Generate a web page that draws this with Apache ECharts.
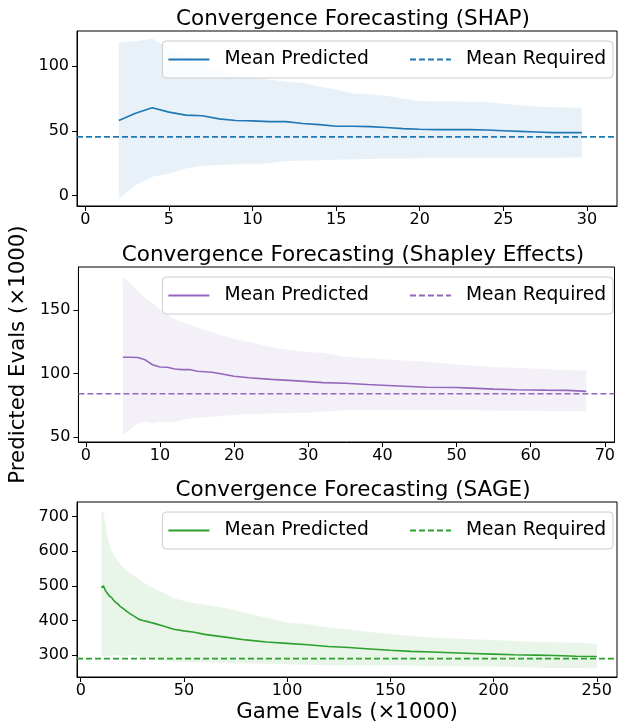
<!DOCTYPE html>
<html>
<head>
<meta charset="utf-8">
<script src="https://cdn.jsdelivr.net/npm/echarts@6/dist/echarts.min.js"></script>
<style>
  html, body { margin: 0; padding: 0; background: #fff; }
  #chart { width: 618px; height: 726px; }
</style>
</head>
<body>
<div id="chart"></div>
<script>
// SHAP
const shapX = [2, 3, 4, 5, 6, 7, 8, 9, 10, 11, 12, 13, 14, 15, 16, 17, 18, 19, 20, 21, 22, 23, 24, 25, 26, 27, 28, 29.7];
const shapMean = [57.9, 63.6, 67.8, 64.4, 62.1, 61.6, 59.2, 57.9, 57.7, 57.1, 57.1, 55.6, 54.8, 53.5, 53.5, 53.2, 52.5, 51.7, 51.2, 50.9, 50.9, 50.9, 50.6, 50.1, 49.6, 49.1, 48.6, 48.6];
const shapUpper = [118.4, 119, 121, 114, 108, 102, 97, 93, 91.2, 89.5, 87.8, 87, 83.9, 81.8, 78.7, 78.2, 77, 74.8, 73, 72.8, 72.7, 72.5, 72.2, 70.9, 69.8, 68.8, 68.2, 67.8];
const shapLower = [-2.6, 8, 14.5, 16.9, 21, 22.9, 23.6, 24.2, 24.2, 24.9, 26.8, 27, 27.3, 27.6, 28, 28.2, 28.6, 28.7, 28.8, 28.8, 28.8, 28.9, 29, 29, 29.1, 29.2, 29.3, 29.4];
const shapRequired = 45.3;

// Shapley Effects
const seX = [5, 6, 7, 8, 9, 10, 11, 12, 13, 14, 15, 17, 18, 20, 22, 25, 28, 30, 32, 35, 38, 40, 43, 46, 50, 52, 55, 58, 62, 65, 67.5];
const seMean = [112.8, 112.8, 112.6, 110.8, 106.9, 105.1, 104.9, 103.6, 103.1, 103.1, 101.8, 101, 100, 97.9, 96.7, 95.4, 94.4, 93.6, 92.8, 92.3, 91.3, 90.8, 90, 89.2, 89, 88.5, 87.7, 87.2, 86.9, 86.7, 85.9];
const seUpper = [176, 171, 164.6, 159.5, 155.6, 150.5, 146.5, 142.8, 140.3, 138.5, 136.4, 132.6, 130.5, 127.4, 124.9, 121, 117.9, 117, 116.4, 113.3, 112, 111.3, 110.3, 109.5, 106.9, 106.3, 105.1, 104.5, 103.6, 102.6, 102.3];
const seLower = [51.8, 55.6, 60.8, 62, 60.8, 62, 61.5, 62, 63.3, 64.6, 65.2, 65.9, 66.3, 67.2, 67.8, 68.5, 68.8, 69, 70, 71, 71, 71, 71, 71, 71, 71, 70.8, 70.6, 70.5, 70.4, 70.3];
const seRequired = 84;

// SAGE
const sageX = [10, 11, 12, 13, 14, 15, 16, 17, 18, 19, 20, 22, 24, 26, 28, 30, 33, 36, 40, 45, 50, 55, 60, 70, 80, 90, 100, 110, 120, 130, 140, 150, 160, 170, 180, 190, 200, 210, 220, 230, 240, 250];
const sageMean = [495, 500, 486, 478, 470, 466, 458, 452, 448, 441, 437, 428, 419, 412, 404, 400, 396, 391, 384, 375, 370, 366, 360, 352, 344, 338, 334, 330, 325, 322, 318, 314, 311, 309, 307, 305, 303, 301, 300, 299, 297, 296];
const sageUpper = [714, 712, 679, 641, 617, 600, 590, 580, 572, 565, 556, 545, 536, 528, 520, 512, 500, 490, 480, 465, 456, 450, 446, 436, 422, 408, 394, 389, 380, 374, 367, 361, 355, 351, 348, 346, 344, 341, 339, 337, 336, 333];
const sageLower = [298, 297, 296, 297, 298, 298, 299, 300, 300, 299, 298, 297, 300, 300, 297, 294, 289, 286, 284, 282, 281, 280, 279, 278, 276, 275, 274, 272, 271, 270, 270, 271, 270, 268, 268, 267, 267, 266, 264, 263, 263, 262];
const sageRequired = 290;

const titles = ['Convergence Forecasting (SHAP)', 'Convergence Forecasting (Shapley Effects)', 'Convergence Forecasting (SAGE)'];
const xTicks = [[0, 5, 10, 15, 20, 25, 30], [0, 10, 20, 30, 40, 50, 60, 70], [0, 50, 100, 150, 200, 250]];
const yTicks = [[0, 50, 100], [50, 100, 150], [300, 400, 500, 600, 700]];

const FONT = 'DejaVu Sans';
const COLORS = ['#1f77b4', '#9467bd', '#2ca02c'];
const GRID_TOPS = [31, 267, 502];
const GRID_H = 175;
const X_RANGE = [[-0.5, 31.8], [-1, 71.3], [-1.8, 259.8]];
const Y_RANGE = [[-8, 127], [46, 184], [237, 742]];

const panels = [
  { x: shapX, mean: shapMean, upper: shapUpper, lower: shapLower, req: shapRequired },
  { x: seX, mean: seMean, upper: seUpper, lower: seLower, req: seRequired },
  { x: sageX, mean: sageMean, upper: sageUpper, lower: sageLower, req: sageRequired }
];

const bandRenderer = (xs, lo, hi, color) => (params, api) => {
  if (params.dataIndex !== 0) return;
  const pts = [];
  for (let i = 0; i < xs.length; i++) pts.push(api.coord([xs[i], hi[i]]));
  for (let i = xs.length - 1; i >= 0; i--) pts.push(api.coord([xs[i], lo[i]]));
  return { type: 'polygon', shape: { points: pts }, style: { fill: color, opacity: 0.1 } };
};

const legendNames = {};
const grid = [], xAxis = [], yAxis = [], title = [], legend = [], series = [];

panels.forEach((p, k) => {
  const c = COLORS[k];
  grid.push({ left: 77, right: 1, top: GRID_TOPS[k], height: GRID_H, show: true, borderColor: '#000', borderWidth: 1, backgroundColor: 'transparent' });
  title.push({
    text: titles[k], left: 348, top: GRID_TOPS[k] - 28, textAlign: 'center',
    textStyle: { fontFamily: FONT, fontSize: 21.5, fontWeight: 'normal', color: '#000' }
  });
  xAxis.push({
    type: 'value', gridIndex: k, min: X_RANGE[k][0], max: X_RANGE[k][1],
    splitLine: { show: false },
    axisLine: { onZero: false, lineStyle: { color: '#000', width: 1 } },
    axisTick: { customValues: xTicks[k], length: 5, lineStyle: { color: '#000' } },
    axisLabel: { customValues: xTicks[k], color: '#000', fontFamily: FONT, fontSize: 16, margin: 6 },
    name: k === 2 ? 'Game Evals (×1000)' : '',
    nameLocation: 'middle', nameGap: 25,
    nameTextStyle: { fontFamily: FONT, fontSize: 21.3, color: '#000' }
  });
  yAxis.push({
    type: 'value', gridIndex: k, min: Y_RANGE[k][0], max: Y_RANGE[k][1],
    splitLine: { show: false },
    axisLine: { onZero: false, lineStyle: { color: '#000', width: 1 } },
    axisTick: { customValues: yTicks[k], length: 5, lineStyle: { color: '#000' } },
    axisLabel: { customValues: yTicks[k], color: '#000', fontFamily: FONT, fontSize: 16, margin: 8 },
    name: k === 1 ? 'Predicted Evals (×1000)' : '',
    nameLocation: 'middle', nameGap: 48,
    nameTextStyle: { fontFamily: FONT, fontSize: 21.3, color: '#000' }
  });
  const predName = 'pred' + k, reqName = 'req' + k;
  legendNames[predName] = 'Mean Predicted';
  legendNames[reqName] = 'Mean Required';
  legend.push({
    data: [predName, reqName],
    right: 5, top: GRID_TOPS[k] + 10,
    orient: 'horizontal',
    itemWidth: 41, itemHeight: 12, itemGap: 40,
    padding: [9, 7, 9, 5],
    borderColor: '#ccc', borderWidth: 1, borderRadius: 4,
    backgroundColor: 'rgba(255,255,255,0.8)',
    formatter: (n) => legendNames[n],
    selectedMode: false,
    itemStyle: { opacity: 0 },
    textStyle: { fontFamily: FONT, fontSize: 18.7, color: '#000', padding: [0, 0, 0, 10] }
  });
  series.push({
    type: 'custom', xAxisIndex: k, yAxisIndex: k, silent: true, z: 1,
    data: p.x.map((x, i) => [x, p.lower[i], p.upper[i]]),
    encode: { x: 0, y: [1, 2] },
    renderItem: bandRenderer(p.x, p.lower, p.upper, c)
  });
  series.push({
    name: reqName, type: 'line', xAxisIndex: k, yAxisIndex: k, z: 2,
    data: [[X_RANGE[k][0], p.req], [X_RANGE[k][1], p.req]],
    symbol: 'none', color: c,
    lineStyle: { color: c, width: 1.6, type: [6, 3] }
  });
  series.push({
    name: predName, type: 'line', xAxisIndex: k, yAxisIndex: k, z: 3,
    data: p.x.map((x, i) => [x, p.mean[i]]),
    symbol: 'none', color: c,
    lineStyle: { color: c, width: 1.6 }
  });
});

const chart = echarts.init(document.getElementById('chart'), null, { renderer: 'canvas' });
chart.setOption({
  animation: false,
  backgroundColor: '#fff',
  textStyle: { fontFamily: FONT },
  title, grid, xAxis, yAxis, legend, series
});
</script>
</body>
</html>
